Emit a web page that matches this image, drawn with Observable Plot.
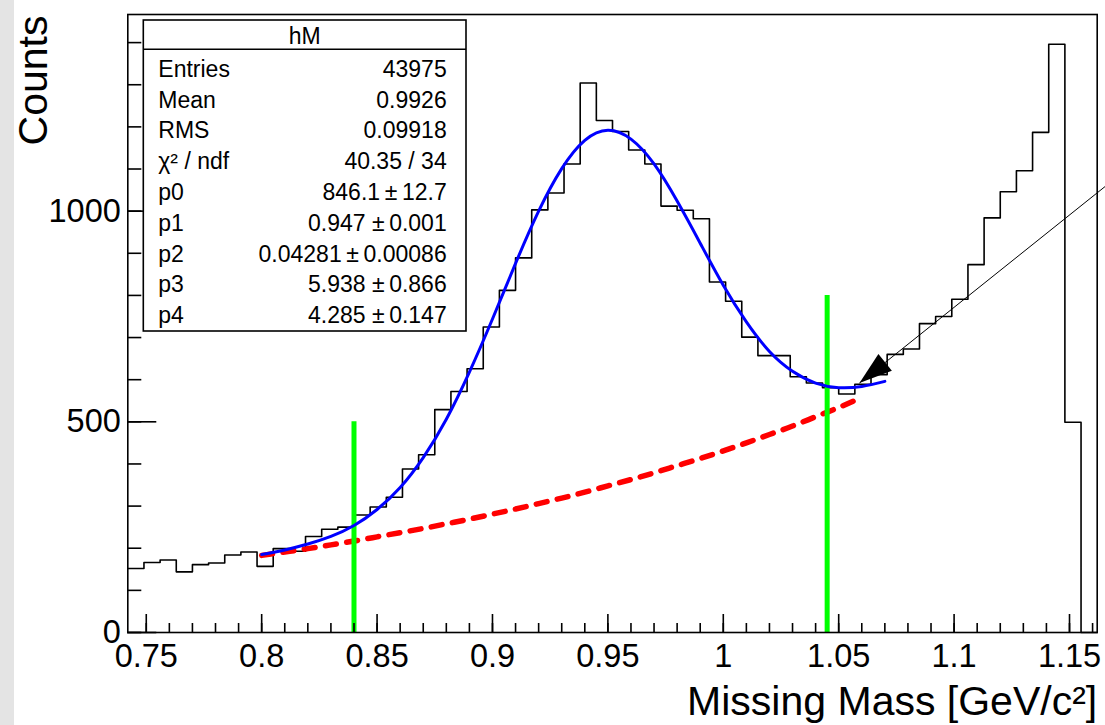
<!DOCTYPE html>
<html><head><meta charset="utf-8">
<script src="https://cdn.jsdelivr.net/npm/d3@7"></script>
<script src="https://cdn.jsdelivr.net/npm/@observablehq/plot@0.6"></script>
<style>
html,body{margin:0;padding:0;background:#fff;}
#wrap{position:relative;width:1105px;height:725px;overflow:hidden;
  background:linear-gradient(to right,#e4e4e4 0,#e4e4e4 14px,#ffffff 14px);}
</style></head><body><div id="wrap"></div>
<script>
// ---- histogram (60 bins of 0.007 from 0.742 to 1.162) ----
const binLow = 0.742;
const binWidth = 0.007;
const counts = [152,166,172,144,161,165,184,191,157,199,
                193,228,245,250,279,298,321,388,422,529,
                572,626,725,812,889,1003,1043,1112,1304,1215,
                1189,1145,1112,1012,1002,982,832,786,701,657,
                657,607,592,581,566,589,612,660,673,733,
                750,791,873,984,1046,1096,1187,1396,499,0];

// ---- total fit (blue) ----
const fitX = [0.80,0.81,0.82,0.83,0.84,0.85,0.86,0.87,0.88,0.89,0.90,0.91,0.92,0.93,
              0.94,0.95,0.96,0.97,0.98,0.99,1.00,1.01,1.02,1.03,1.04,1.05,1.06,1.07];
const fitY = [185,196,210,228,254,292,344,415,506,618,744,876,1000,1101,
              1168,1192,1171,1112,1024,924,824,737,667,620,592,581,584,596];

// ---- background (red dashed) ----
const bgX = [0.80,0.81,0.82,0.83,0.84,0.85,0.86,0.87,0.88,0.89,0.90,0.91,0.92,0.93,
             0.94,0.95,0.96,0.97,0.98,0.99,1.00,1.01,1.02,1.03,1.04,1.05,1.06];
const bgY = [183,191,199,208,217,227,237,247,258,269,281,293,306,319,
             333,348,363,379,396,413,431,450,470,490,512,534,558];

// ---- cut lines (green) ----
const cutX = [0.84, 1.045];
const cutTop = [500, 800];

// ---- arrow annotation ----
const arrowFrom = [1.166, 1061];
const arrowTo = [1.059, 592];

// ---- axes ----
const xMajor = [0.75,0.8,0.85,0.9,0.95,1,1.05,1.1,1.15];
const xMinor = d3.range(75,117).map(d => d/100);
const yMajor = [0,500,1000];
const yMinor = d3.range(0,1500,100);
const xTitle = "Missing Mass [GeV/c\u00B2]";
const yTitle = "Counts";

// ---- stats box ----
const statsTitle = "hM";
const statsLabels = ["Entries","Mean","RMS","\u03C7\u00B2 / ndf","p0","p1","p2","p3","p4"];
const statsValues = ["43975","0.9926","0.09918","40.35 / 34",
  "846.1\u2009\u00B1\u200912.7","0.947 \u00B1\u20090.001","0.04281\u2009\u00B1\u20090.00086",
  "5.938 \u00B1\u20090.866","4.285 \u00B1\u20090.147"];

const histPts = counts.map((c,i) => ({x: binLow + binWidth*i, y: c}));
histPts.push({x: binLow + binWidth*counts.length, y: counts[counts.length-1]});
const fitPts = fitX.map((x,i) => ({x, y: fitY[i]}));
const bgPts = bgX.map((x,i) => ({x, y: bgY[i]}));
const cuts = cutX.map((x,i) => ({x, top: cutTop[i]}));

const arrowHead = {
  draw(ctx) { ctx.moveTo(0,0); ctx.lineTo(-10.7,33); ctx.lineTo(10.7,33); ctx.closePath(); }
};

const FONT = "'Liberation Sans', Arial, Helvetica, sans-serif";
const W = 1105, H = 725;
const mL = 127.3, mR = 8.3, mT = 14, mB = 93;

const chart = Plot.plot({
  width: W, height: H,
  marginLeft: mL, marginRight: mR, marginTop: mT, marginBottom: mB,
  style: {fontFamily: FONT, background: "transparent", color: "black"},
  x: {domain: [0.742, 1.162]},
  y: {domain: [0, 1466.7]},
  marks: [
    Plot.line(histPts, {x: "x", y: "y", curve: "step-after", stroke: "black", strokeWidth: 1.6}),
    Plot.line(bgPts, {x: "x", y: "y", curve: "natural", stroke: "#ff0000", strokeWidth: 5.5, strokeDasharray: "11 10.5"}),
    Plot.ruleX(cuts, {x: "x", y1: 0, y2: "top", stroke: "#00ff00", strokeWidth: 5}),
    Plot.line(fitPts, {x: "x", y: "y", curve: "natural", stroke: "#0000ff", strokeWidth: 3}),
    Plot.link([{x1: arrowFrom[0], y1: arrowFrom[1], x2: arrowTo[0], y2: arrowTo[1]}],
      {x1: "x1", y1: "y1", x2: "x2", y2: "y2", stroke: "black", strokeWidth: 1}),
    Plot.dot([{x: arrowTo[0], y: arrowTo[1]}], {x: "x", y: "y", symbol: arrowHead, rotate: -128.9, fill: "black", stroke: "none", r: 10}),
    Plot.axisX(xMinor, {tickSize: -9, tickFormat: () => "", strokeWidth: 1.6, label: null}),
    Plot.axisX(xMajor, {tickSize: -18, tickPadding: 29.3, fontSize: 32.5, strokeWidth: 1.6, tickFormat: d => String(d), label: null}),
    Plot.axisY(yMinor, {tickSize: -14, tickFormat: () => "", strokeWidth: 1.6, label: null}),
    Plot.axisY(yMajor, {tickSize: -29, tickPadding: 36, fontSize: 32.5, strokeWidth: 1.6, tickFormat: d => String(d), label: null}),
    Plot.frame({stroke: "black", strokeWidth: 1.6}),
    Plot.text([xTitle], {frameAnchor: "bottom-right", textAnchor: "end", lineAnchor: "bottom", dy: 82, fontSize: 41, fill: "black"}),
    Plot.text([yTitle], {frameAnchor: "top-left", textAnchor: "end", lineAnchor: "bottom", rotate: -90, dx: -81.3, dy: 1, fontSize: 41, fill: "black"})
  ]
});

// stats box (ROOT TPaveStats)
const svg = d3.select(chart);
const box = {x0: 143.3, x1: 466, y0: 20, y1: 331, sep: 49.3};
const g = svg.append("g").attr("font-family", FONT).attr("font-size", 23).attr("fill", "black");
g.append("rect").attr("x", box.x0).attr("y", box.y0).attr("width", box.x1 - box.x0).attr("height", box.y1 - box.y0)
  .attr("fill", "white").attr("stroke", "black").attr("stroke-width", 1.6);
g.append("line").attr("x1", box.x0).attr("x2", box.x1).attr("y1", box.sep).attr("y2", box.sep)
  .attr("stroke", "black").attr("stroke-width", 1.4);
g.append("text").attr("x", (box.x0 + box.x1)/2).attr("y", 44.3).attr("text-anchor", "middle").text(statsTitle);
statsLabels.forEach((t,i) => {
  g.append("text").attr("x", 158.3).attr("y", 76.7 + 30.8*i).attr("text-anchor", "start").text(t);
  g.append("text").attr("x", 446.7).attr("y", 76.7 + 30.8*i).attr("text-anchor", "end").text(statsValues[i]);
});

document.getElementById("wrap").appendChild(chart);
</script></body></html>
